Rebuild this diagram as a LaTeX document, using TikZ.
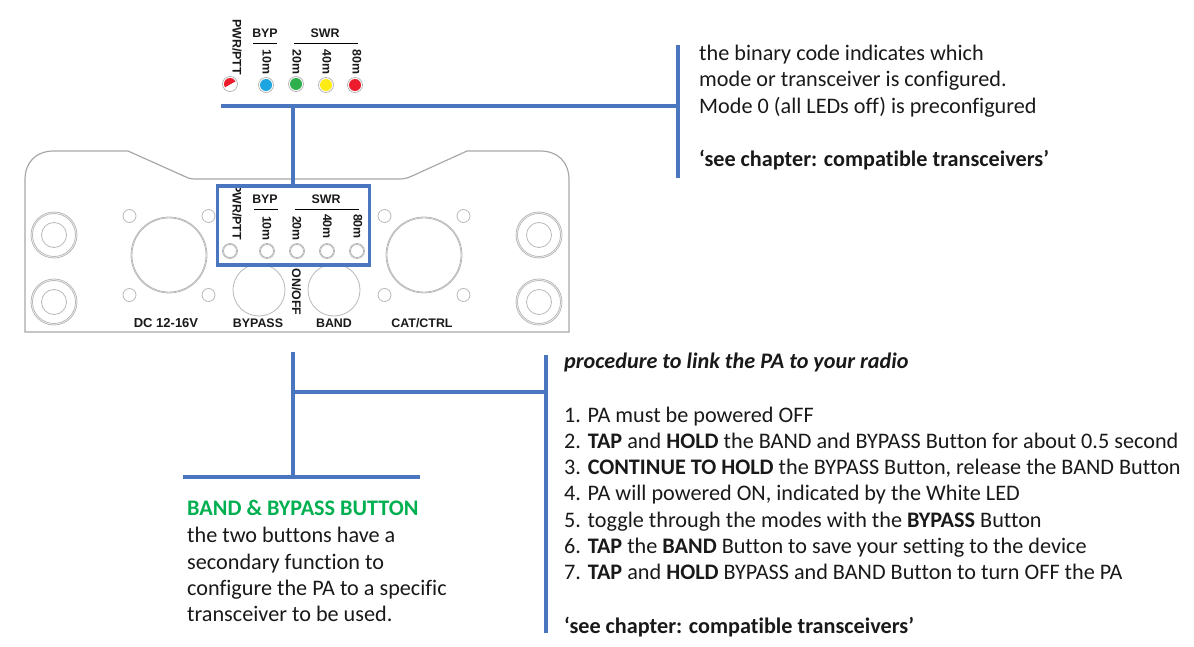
\documentclass[tikz,border=0pt]{standalone}
\usepackage{fontspec}
\setmainfont{Carlito}[Ligatures=NoCommon]
\newfontfamily\labelfont{Liberation Sans}
\definecolor{bluel}{HTML}{4A76C0}
\definecolor{panelg}{HTML}{A8A8A8}
\definecolor{ringg}{HTML}{B8B8B8}
\definecolor{greent}{HTML}{00B050}
\definecolor{ledb}{HTML}{1CA5E0}
\definecolor{ledg}{HTML}{2FAE4E}
\definecolor{ledy}{HTML}{FFEB14}
\definecolor{ledr}{HTML}{EC1C2C}
\tikzset{
  bline/.style={draw=bluel,line width=3.05pt},
  panel/.style={draw=panelg,line width=1.2pt},
  thin circle/.style={draw=ringg,line width=.8pt},
  led/.style={circle,draw=ringg,line width=.8pt,minimum size=15pt,inner sep=0pt,fill=white},
  ledin/.style={circle,minimum size=12pt,inner sep=0pt},
  lab/.style={font=\labelfont\bfseries\fontsize{12.4}{12}\selectfont,inner sep=0pt,text=black!90},
  vlab/.style={lab,rotate=-90},
  body/.style={font=\fontsize{22.2}{26}\selectfont,anchor=base west,inner sep=0pt,text=black!90},
  rulel/.style={draw=black,line width=1pt}
}
\begin{document}
\begin{tikzpicture}[x=1pt,y=-1pt]
\useasboundingbox (0,0) rectangle (1194,647);
% panel
\draw[panel] (25,332) -- (25,180) .. controls (25,162) and (36,151) .. (54,151) -- (128,151) -- (186,177) .. controls (190,179) and (193,179) .. (197,179) -- (400,179) .. controls (404,179) and (408,178) .. (412,176) -- (467,151) -- (540,151) .. controls (558,151) and (569,162) .. (569,180) -- (569,332) -- cycle;
% connectors and holes
\foreach \x in {54,539}{\foreach \y in {235,302}{
  \draw[thin circle] (\x,\y) circle[radius=23]; \draw[thin circle] (\x,\y) circle[radius=21.5];
  \draw[thin circle] (\x,\y) circle[radius=12.5];}}
\foreach \x in {169,424}{
  \draw[thin circle] (\x,255) circle[radius=38]; \draw[thin circle] (\x,255) circle[radius=37];
  \foreach \d in {-39.5,39.5}{\foreach \y in {216,295}{\draw[thin circle] (\x+\d,\y) circle[radius=6.5];}}}
\draw[thin circle] (259,290) circle[radius=26];
\draw[thin circle] (334,290) circle[radius=26];
\foreach \x in {230,267,297,327,357}{
  \draw[thin circle] (\x,251) circle[radius=7.5]; \draw[thin circle] (\x,251) circle[radius=6.5];}
% panel labels
\node[lab] (lbyp) at (265,199) {BYP};
\node[lab] (lswr) at (326,199) {SWR};
\draw[rulel] (254,210) -- (278,210);
\draw[rulel] (295,210) -- (359,210);
\node[vlab] (lpwr) at (237,212) {PWR/PTT};
\node[vlab] (l10) at (267,228.5) {10m};
\node[vlab] (l20) at (297,228.5) {20m};
\node[vlab] (l40) at (327.5,226.5) {40m};
\node[vlab] (l80) at (358,226.5) {80m};
\node[vlab] (lon) at (296.5,292) {ON/OFF};
\node[lab] (lbypass) at (258,323) {BYPASS};
\node[lab] (lband) at (334,323) {BAND};
\node[lab] (lcat) at (422,323) {CAT/CTRL};
\node[lab,font=\labelfont\bfseries\fontsize{13}{13}\selectfont] (ldc) at (166,323) {DC 12-16V};
% top LEDs
\node[lab] (tbyp) at (265,33) {BYP};
\node[lab] (tswr) at (325,33) {SWR};
\draw[rulel] (253,44) -- (277,44);
\draw[rulel] (294,44) -- (358,44);
\node[vlab] (tpwr) at (237,47) {PWR/PTT};
\node[vlab] (t10) at (267,62) {10m};
\node[vlab] (t20) at (297,62) {20m};
\node[vlab] (t40) at (327,62) {40m};
\node[vlab] (t80) at (357,62) {80m};
\node[led] (lp) at (230,84) {};
\begin{scope}
\clip (lp) circle[radius=6];
\fill[ledr] (222,89) -- (238,80) -- (238,70) -- (222,70) -- cycle;
\end{scope}
\node[led] (lb) at (266,85) {}; \node[ledin,fill=ledb] at (lb) {};
\node[led] (lg) at (296,84) {}; \node[ledin,fill=ledg] at (lg) {};
\node[led] (ly) at (326,85) {}; \node[ledin,fill=ledy] at (ly) {};
\node[led] (lr) at (355,85) {}; \node[ledin,fill=ledr] at (lr) {};
% blue lines
\coordinate (tl) at (221,106); \coordinate (tr) at (678,106);
\coordinate (tj) at (293,106); \coordinate (tb) at (293,186);
\coordinate (ra) at (678,45); \coordinate (rb) at (678,178);
\draw[bline] (tl) -- (tr);
\draw[bline] (tj) -- (tb);
\draw[bline] (ra) -- (rb);
\node[draw=bluel,line width=3.2pt,inner sep=0pt,minimum width=152pt,minimum height=79pt] (box) at (293.5,225.5) {};
\coordinate (ba) at (293,352); \coordinate (bb) at (293,477);
\coordinate (bc) at (293,392); \coordinate (bd) at (546,392);
\coordinate (be) at (546,355); \coordinate (bf) at (546,633);
\coordinate (bg) at (183,477); \coordinate (bh) at (420,477);
\draw[bline] (ba) -- (bb);
\draw[bline] (bc) -- (bd);
\draw[bline] (be) -- (bf);
\draw[bline] (bg) -- (bh);
% texts
\node[body] (a1) at (699,60.5) {the binary code indicates which};
\node[body] (a2) at (699,86.5) {mode or transceiver is configured.};
\node[body] (a3) at (699,113.5) {Mode 0 (all LEDs off) is preconfigured};
\node[body] (a4) at (699,167) {\textbf{‘see chapter: compatible transceivers’}};
\node[body] (b0) at (564,368) {\textbf{\textit{procedure to link the PA to your radio}}};
\node[body] (b1) at (564,422) {1. PA must be powered OFF};
\node[body] (b2) at (564,448) {2. \textbf{TAP} and \textbf{HOLD} the BAND and BYPASS Button for about 0.5 second};
\node[body] (b3) at (564,474) {3. \textbf{CONTINUE TO HOLD} the BYPASS Button, release the BAND Button};
\node[body] (b4) at (564,500) {4. PA will powered ON, indicated by the White LED};
\node[body] (b5) at (564,527) {5. toggle through the modes with the \textbf{BYPASS} Button};
\node[body] (b6) at (564,553) {6. \textbf{TAP} the \textbf{BAND} Button to save your setting to the device};
\node[body] (b7) at (564,579) {7. \textbf{TAP} and \textbf{HOLD} BYPASS and BAND Button to turn OFF the PA};
\node[body] (b8) at (564,633) {\textbf{‘see chapter: compatible transceivers’}};
\node[body,text=greent] (c0) at (187,515) {\textbf{BAND \& BYPASS BUTTON}};
\node[body] (c1) at (187,542) {the two buttons have a};
\node[body] (c2) at (187,569) {secondary function to};
\node[body] (c3) at (187,595) {configure the PA to a specific};
\node[body] (c4) at (187,621) {transceiver to be used.};
\end{tikzpicture}
\end{document}
